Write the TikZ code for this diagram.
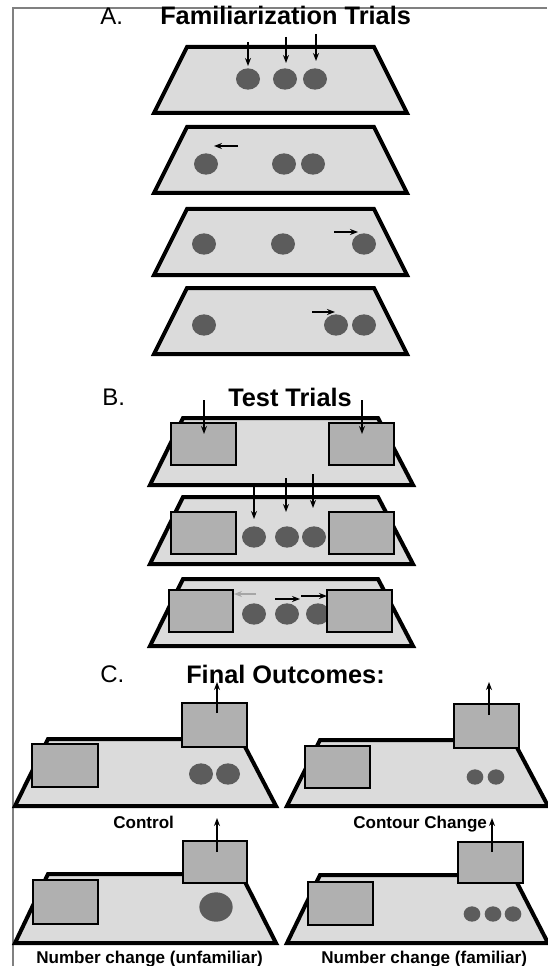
\documentclass[tikz,border=0pt]{standalone}
\usepackage{fontspec}
\setmainfont{Liberation Sans}
\usetikzlibrary{shapes.geometric, arrows.meta}
\definecolor{tablegray}{gray}{0.86}
\definecolor{boxgray}{gray}{0.69}
\definecolor{ballgray}{gray}{0.36}

\begin{document}
\begin{tikzpicture}[>={Stealth[length=6pt, width=4.5pt]}, x=0.75pt, y=-0.75pt,
    table/.style={draw, line width=3pt, fill=tablegray, line join=miter},
    box/.style={draw, line width=2.2pt, fill=boxgray},
    ball/.style={ellipse, fill=ballgray, inner sep=0pt, minimum width=18pt, minimum height=16pt},
    smallball/.style={ball, minimum width=12.5pt, minimum height=11.5pt},
    move/.style={->, line width=1.1pt},
    heading/.style={anchor=base west, inner sep=0pt, font=\bfseries\fontsize{19}{22}\selectfont},
    letter/.style={anchor=base west, inner sep=0pt, font=\fontsize{18}{22}\selectfont},
    caption/.style={anchor=base west, inner sep=0pt, font=\bfseries\fontsize{12.8}{15}\selectfont}]

    \useasboundingbox (0,0) rectangle (547,966);
    \draw[gray, line width=1pt] (547,8) -- (13,8) -- (13,966);

    % A. familiarization trials
    \node[letter] (la) at (100,25) {A.};
    \node[heading] (ta) at (160,25) {Familiarization Trials};
    \foreach \t in {47,127,209,288}
        \draw[table] (187,\t) -- (374,\t) -- (407,\t+66) -- (154,\t+66) -- cycle;

    \node[ball] (a1) at (248,79) {};
    \node[ball] (a2) at (285,79) {};
    \node[ball] (a3) at (315,79) {};
    \draw[move] (248,42) -- (248,66);
    \draw[move] (286,37) -- (286,63);
    \draw[move] (316,34) -- (316,61);

    \node[ball] (b1) at (206,164) {};
    \node[ball] (b2) at (284,164) {};
    \node[ball] (b3) at (313,164) {};
    \draw[move] (238,146) -- (214,146);

    \node[ball] (c1) at (204,244) {};
    \node[ball] (c2) at (283,244) {};
    \node[ball] (c3) at (364,244) {};
    \draw[move] (334,232) -- (358,232);

    \node[ball] (d1) at (204,325) {};
    \node[ball] (d2) at (336,325) {};
    \node[ball] (d3) at (364,325) {};
    \draw[move] (312,312) -- (335,312);

    % B. test trials
    \node[letter] (lb) at (102,405) {B.};
    \node[heading] (tb) at (228,406) {Test Trials};
    \foreach \t in {418,497,579}
        \draw[table] (183,\t) -- (378,\t) -- (413,\t+67) -- (150,\t+67) -- cycle;

    \draw[box] (171,423) rectangle (236,465);
    \draw[box] (329,423) rectangle (394,465);
    \draw[move] (204,400) -- (204,434);
    \draw[move] (362,400) -- (362,434);

    \node[ball] (e1) at (254,537) {};
    \node[ball] (e2) at (287,537) {};
    \node[ball] (e3) at (314,537) {};
    \draw[box] (171,512) rectangle (236,554);
    \draw[box] (329,512) rectangle (394,554);
    \draw[move] (254,485) -- (254,519);
    \draw[move] (286,478) -- (286,512);
    \draw[move] (313,474) -- (313,508);

    \node[ball] (f1) at (254,614) {};
    \node[ball] (f2) at (287,614) {};
    \node[ball] (f3) at (318,614) {};
    \draw[box] (169,590) rectangle (233,632);
    \draw[box] (327,590) rectangle (392,632);
    \draw[move, gray!70, line width=0.8pt] (256,594) -- (234,594);
    \draw[move] (275,599) -- (300,599);
    \draw[move] (301,596) -- (327,596);

    % C. final outcomes
    \node[letter] (lc) at (100,682) {C.};
    \node[heading] (tc) at (186,683) {Final Outcomes:};

    \draw[table] (48,739) -- (241,739) -- (276,806) -- (15,806) -- cycle;
    \node[ball] (g1) at (201,774) {};
    \node[ball] (g2) at (228,774) {};
    \draw[box] (32,744) rectangle (98,787);
    \draw[box] (182,703) rectangle (247,747);
    \draw[move] (217,713) -- (217,682);
    \node[caption] (control) at (113,828) {Control};

    \draw[table] (320,740) -- (513,740) -- (548,806) -- (287,806) -- cycle;
    \node[smallball] (h1) at (475,777) {};
    \node[smallball] (h2) at (496,777) {};
    \draw[box] (305,746) rectangle (370,788);
    \draw[box] (454,704) rectangle (519,748);
    \draw[move] (489,715) -- (489,682);
    \node[caption] (contour) at (353,828) {Contour Change};

    \draw[table] (48,874) -- (241,874) -- (276,943) -- (15,943) -- cycle;
    \node[ball, minimum width=25pt, minimum height=22pt] (k1) at (216,907) {};
    \draw[box] (33,880) rectangle (98,924);
    \draw[box] (183,841) rectangle (247,883);
    \draw[move] (217,852) -- (217,818);
    \node[caption] (unfam) at (36,963) {Number change (unfamiliar)};

    \draw[table] (320,875) -- (513,875) -- (548,943) -- (287,943) -- cycle;
    \node[smallball] (m1) at (472,914) {};
    \node[smallball] (m2) at (493,914) {};
    \node[smallball] (m3) at (513,914) {};
    \draw[box] (308,882) rectangle (373,925);
    \draw[box] (458,842) rectangle (523,883);
    \draw[move] (492,852) -- (492,818);
    \node[caption] (fam) at (321,963) {Number change (familiar)};
\end{tikzpicture}
\end{document}
